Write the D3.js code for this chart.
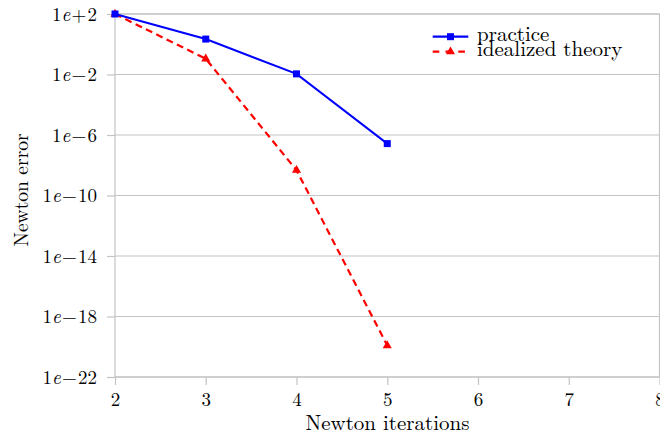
<!DOCTYPE html>
<html>
<head>
<meta charset="utf-8">
<script src="https://d3js.org/d3.v7.min.js"></script>
<style>
  body { margin: 0; background: #fff; }
  svg text { font-family: "Latin Modern Roman", "DejaVu Serif", serif; fill: #000; }
</style>
</head>
<body>
<svg width="660" height="433"></svg>
<script>
// data
const iterations = [2, 3, 4, 5];
const practice = [100, 2.2, 0.011, 2.7e-7];
const theory = [100, 0.11, 4.7e-9, 1.2e-20];
const xTicks = [2, 3, 4, 5, 6, 7, 8];
const yTicks = [1e2, 1e-2, 1e-6, 1e-10, 1e-14, 1e-18, 1e-22];

const svg = d3.select("svg");
const plotL = 115, plotR = 659.5, plotT = 14, plotB = 377;
const font = "Latin Modern Roman";
const tickFont = 19;

const x = d3.scaleLinear().domain([2, 8]).range([plotL, plotR]);
const y = d3.scaleLog().domain([1e-22, 1e2]).range([plotB, plotT]);

const grid = "#c4c4c4";

// horizontal grid lines
svg.append("g").selectAll("line").data(yTicks).enter().append("line")
  .attr("x1", plotL).attr("x2", plotR)
  .attr("y1", d => y(d)).attr("y2", d => y(d))
  .attr("stroke", grid).attr("stroke-width", 1.2);

// frame
svg.append("rect")
  .attr("x", plotL).attr("y", plotT)
  .attr("width", plotR - plotL).attr("height", plotB - plotT)
  .attr("fill", "none").attr("stroke", grid).attr("stroke-width", 1.2);

// x axis ticks + labels
const xg = svg.append("g").attr("transform", `translate(0,${plotB})`)
  .call(d3.axisBottom(x).tickValues(xTicks).tickSize(8).tickPadding(8).tickFormat(d3.format("d")));
xg.select(".domain").remove();
xg.selectAll("line").attr("stroke", grid).attr("stroke-width", 1.2);
xg.selectAll("text").attr("font-size", tickFont).attr("font-family", font).attr("fill", "#000")
  .attr("dy", "0.66em");

// y axis ticks + labels
const yg = svg.append("g").attr("transform", `translate(${plotL},0)`)
  .call(d3.axisLeft(y).tickValues(yTicks).tickSize(8).tickPadding(9).tickFormat(""));
yg.select(".domain").remove();
yg.selectAll("line").attr("stroke", grid).attr("stroke-width", 1.2);
yg.selectAll(".tick").each(function (d) {
  const e = Math.round(Math.log10(d));
  const t = d3.select(this).select("text")
    .attr("font-size", tickFont).attr("font-family", font).attr("fill", "#000")
    .attr("x", -18).attr("dy", "0.33em");
  t.text(null);
  t.append("tspan").text("1");
  t.append("tspan").attr("font-style", "italic").text("e");
  t.append("tspan").attr("dx", 1.2).text(e < 0 ? "\u2212" : "+");
  t.append("tspan").attr("dx", 1.2).text(Math.abs(e));
});

// axis titles
svg.append("text")
  .attr("x", 387.5).attr("y", 430).attr("text-anchor", "middle")
  .attr("font-size", 21).text("Newton iterations");
svg.append("text")
  .attr("transform", "translate(28,190) rotate(-90)").attr("text-anchor", "middle")
  .attr("font-size", 19.5).text("Newton error");

const line = d3.line().x(d => x(d[0])).y(d => y(d[1]));
const practicePts = iterations.map((it, i) => [it, practice[i]]);
const theoryPts = iterations.map((it, i) => [it, theory[i]]);

const tri = d3.symbol().type(d3.symbolTriangle).size(36);

// idealized theory
svg.append("path").datum(theoryPts)
  .attr("d", line).attr("fill", "none")
  .attr("stroke", "#ff0000").attr("stroke-width", 2.2).attr("stroke-dasharray", "7,4.5");
svg.append("g").selectAll("path").data(theoryPts).enter().append("path")
  .attr("d", tri).attr("transform", d => `translate(${x(d[0])},${y(d[1])})`)
  .attr("fill", "#ff0000");

// practice
svg.append("path").datum(practicePts)
  .attr("d", line).attr("fill", "none")
  .attr("stroke", "#0000ff").attr("stroke-width", 2);
svg.append("g").selectAll("rect").data(practicePts).enter().append("rect")
  .attr("x", d => x(d[0]) - 3.5).attr("y", d => y(d[1]) - 3.5)
  .attr("width", 7).attr("height", 7).attr("fill", "#0000ff");

// legend
const lg = svg.append("g");
const legendItems = [
  { label: "practice", color: "#0000ff", dash: null, yy: 36.7, marker: "square" },
  { label: "idealized theory", color: "#ff0000", dash: "6.6,6.2", yy: 51.7, marker: "triangle" }
];
legendItems.forEach(it => {
  lg.append("line").attr("x1", 432.7).attr("x2", 468.3).attr("y1", it.yy).attr("y2", it.yy)
    .attr("stroke", it.color).attr("stroke-width", 2.2).attr("stroke-dasharray", it.dash);
  if (it.marker === "square") {
    lg.append("rect").attr("x", 447).attr("y", it.yy - 3.5).attr("width", 7).attr("height", 7).attr("fill", it.color);
  } else {
    lg.append("path").attr("d", tri).attr("transform", `translate(450.5,${it.yy})`).attr("fill", it.color);
  }
  lg.append("text").attr("x", 477).attr("y", it.yy + 4.5).attr("font-size", 21).text(it.label);
});
</script>
</body>
</html>
